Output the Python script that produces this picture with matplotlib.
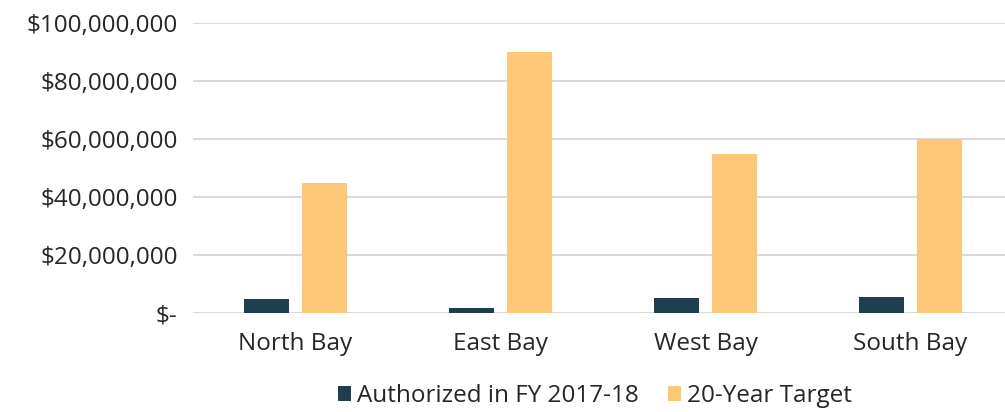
import matplotlib.pyplot as plt
import numpy as np
from matplotlib.ticker import FuncFormatter

regions = ['North Bay', 'East Bay', 'West Bay', 'South Bay']
authorized = [4.9e6, 1.7e6, 5.3e6, 5.6e6]
target = [45e6, 90e6, 55e6, 60e6]

plt.rcParams['font.family'] = ['Open Sans', 'DejaVu Sans']
text_color = '#262626'

fig = plt.figure(figsize=(10.05, 4.12), dpi=100)
ax = fig.add_axes([193 / 1005, 1 - 313 / 412, 820 / 1005, 290 / 412])

x = np.arange(len(regions))
w = 0.22
ax.bar(x - 0.143, authorized, w, color='#1F3F50', label='Authorized in FY 2017-18', zorder=3)
ax.bar(x + 0.143, target, w, color='#FDC777', label='20-Year Target', zorder=3)

ax.set_xlim(-0.5, len(regions) - 0.5)
ax.set_ylim(0, 100e6)
ax.set_yticks(np.arange(0, 100e6 + 1, 20e6))


def money(v, pos):
    if v == 0:
        return '$-'
    return '${:,.0f}'.format(v)


ax.yaxis.set_major_formatter(FuncFormatter(money))
ax.set_xticks(x)
ax.set_xticklabels(regions)
ax.tick_params(axis='both', length=0, labelsize=17.5, colors=text_color)
ax.tick_params(axis='y', pad=11)
ax.tick_params(axis='x', pad=14)
ax.grid(axis='y', color='#D9D9D9', linewidth=1.5, zorder=0)
for s in ax.spines.values():
    s.set_visible(False)

fig.legend(loc='center', bbox_to_anchor=(595 / 1005, 1 - 396 / 412), ncol=2, frameon=False,
           fontsize=17.5, handlelength=0.55, handleheight=0.55, handletextpad=0.25,
           columnspacing=1.2, labelcolor=text_color)

fig.savefig('out.png', dpi=100)
